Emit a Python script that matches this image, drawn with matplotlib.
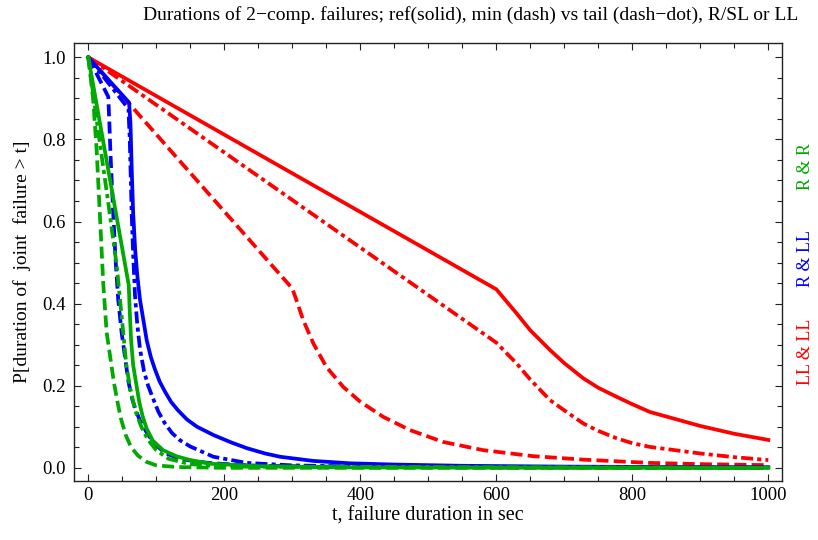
import numpy as np
import matplotlib
matplotlib.use("Agg")
import matplotlib.pyplot as plt
from matplotlib.ticker import MultipleLocator, FormatStrFormatter

plt.rcParams['font.family'] = ['Liberation Serif', 'DejaVu Serif']

# LL & LL (red)
t_ll_ref = [0, 600, 630, 650, 679, 700, 728, 750, 777, 800, 826, 850, 900, 950, 1000]
p_ll_ref = [1.0, 0.435, 0.376, 0.335, 0.287, 0.255, 0.218, 0.195, 0.173, 0.155, 0.136, 0.125, 0.102, 0.083, 0.068]
t_ll_min = [0, 300, 306, 316, 331, 350, 375, 400, 434, 473, 522, 581, 654, 728, 826, 900, 1000]
p_ll_min = [1.0, 0.437, 0.409, 0.36, 0.303, 0.246, 0.197, 0.161, 0.124, 0.092, 0.063, 0.043, 0.0285, 0.020, 0.012, 0.009, 0.0066]
t_ll_tail = [0, 600, 630, 650, 679, 700, 728, 750, 777, 800, 826, 900, 950, 1000]
p_ll_tail = [1.0, 0.305, 0.254, 0.215, 0.165, 0.14, 0.108, 0.09, 0.072, 0.06, 0.051, 0.035, 0.026, 0.019]

# R & LL (blue)
t_rl_ref = [0, 60, 62, 64, 66, 69, 72, 76, 81, 86, 92, 98, 105, 113, 122, 132, 145, 160, 184, 210, 233, 260, 282, 330, 385, 450, 550, 700, 850, 1000]
p_rl_ref = [1.0, 0.89, 0.84, 0.72, 0.62, 0.53, 0.47, 0.41, 0.36, 0.31, 0.27, 0.24, 0.21, 0.185, 0.16, 0.14, 0.118, 0.10, 0.08, 0.062, 0.048, 0.035, 0.027, 0.017, 0.011, 0.008, 0.005, 0.003, 0.002, 0.0015]
t_rl_min = [0, 29.4, 31, 32.5, 35, 37, 40, 44, 49, 54, 59, 65, 70, 76, 88, 100, 113, 135, 160, 184, 250, 400, 1000]
p_rl_min = [1.0, 0.904, 0.84, 0.77, 0.68, 0.61, 0.51, 0.41, 0.33, 0.27, 0.21, 0.165, 0.14, 0.115, 0.08, 0.055, 0.036, 0.022, 0.015, 0.011, 0.005, 0.002, 0.0005]
t_rl_tail = [0, 59, 61, 63.8, 66, 68.7, 72, 76, 82, 88, 95, 103, 112, 123, 135, 150, 184, 233, 300, 400, 600, 1000]
p_rl_tail = [1.0, 0.875, 0.80, 0.62, 0.52, 0.42, 0.35, 0.29, 0.235, 0.20, 0.17, 0.137, 0.11, 0.085, 0.067, 0.052, 0.027, 0.012, 0.006, 0.003, 0.001, 0.0005]

# R & R (green)
t_rr_ref = [0, 59.5, 61, 63, 66, 70, 75, 80, 86, 95, 110, 130, 150, 180, 250, 400, 1000]
p_rr_ref = [1.0, 0.445, 0.38, 0.31, 0.25, 0.21, 0.16, 0.125, 0.095, 0.066, 0.043, 0.028, 0.019, 0.01, 0.004, 0.001, 0.0]
t_rr_min = [0, 7.3, 12.3, 17.2, 22, 27, 30.5, 34, 38, 43, 48, 55, 63, 73, 85, 100, 130, 200, 1000]
p_rr_min = [1.0, 0.896, 0.774, 0.612, 0.449, 0.33, 0.29, 0.25, 0.205, 0.16, 0.12, 0.08, 0.05, 0.03, 0.015, 0.006, 0.002, 0.0, 0.0]
t_rr_tail = [0, 15, 29, 42, 49, 56, 62, 69, 78, 88, 100, 118, 150, 200, 1000]
p_rr_tail = [1.0, 0.815, 0.65, 0.49, 0.37, 0.25, 0.19, 0.14, 0.10, 0.068, 0.043, 0.022, 0.009, 0.003, 0.0]

red = "#ff0000"
blue = "#0000ff"
green = "#00aa00"
lw = 2.7
dash = (0, (3.2, 1.4))
dashdot = (0, (3.2, 1.1, 1.1, 1.1))

fig = plt.figure(figsize=(8.18, 5.40), dpi=100)
ax = fig.add_axes([0.0908, 0.1093, 0.8656, 0.8111])

ax.plot(t_ll_ref, p_ll_ref, color=red, lw=lw)
ax.plot(t_ll_min, p_ll_min, color=red, lw=lw, linestyle=dash)
ax.plot(t_ll_tail, p_ll_tail, color=red, lw=lw, linestyle=dashdot)
ax.plot(t_rl_ref, p_rl_ref, color=blue, lw=lw)
ax.plot(t_rl_min, p_rl_min, color=blue, lw=lw, linestyle=dash)
ax.plot(t_rl_tail, p_rl_tail, color=blue, lw=lw, linestyle=dashdot)
ax.plot(t_rr_ref, p_rr_ref, color=green, lw=lw)
ax.plot(t_rr_min, p_rr_min, color=green, lw=lw, linestyle=dash)
ax.plot(t_rr_tail, p_rr_tail, color=green, lw=lw, linestyle=dashdot)

ax.set_xlim(-20.6, 1020.6)
ax.set_ylim(-0.032, 1.035)
ax.xaxis.set_major_locator(MultipleLocator(200))
ax.xaxis.set_minor_locator(MultipleLocator(50))
ax.yaxis.set_major_locator(MultipleLocator(0.2))
ax.yaxis.set_minor_locator(MultipleLocator(0.05))
ax.yaxis.set_major_formatter(FormatStrFormatter("%.1f"))
ax.tick_params(which="both", direction="in", top=True, right=True, width=0.8, colors="#222222",
               labelcolor="black", labelsize=13.5)
ax.tick_params(which="major", length=5.3, pad=6)
ax.tick_params(axis="x", which="major", pad=4.5)
ax.tick_params(which="minor", length=3.3)
for s in ax.spines.values():
    s.set_linewidth(1.0)
    s.set_color("#222222")

ax.set_xlabel("t, failure duration in sec", fontsize=14.5, labelpad=1.5)
ax.set_ylabel("P[duration of  joint  failure > t]", fontsize=14, labelpad=8)
fig.text(0.576, 0.972, "Durations of 2\u2212comp. failures; ref(solid), min (dash) vs tail (dash\u2212dot), R/SL or LL",
         ha="center", va="center", fontsize=14)

fig.text(0.985, 0.692, "R & R", rotation=90, color=green, ha="center", va="center", fontsize=13)
fig.text(0.985, 0.522, "R & LL", rotation=90, color=blue, ha="center", va="center", fontsize=13)
fig.text(0.985, 0.348, "LL & LL", rotation=90, color=red, ha="center", va="center", fontsize=13)

plt.savefig("out.png", dpi=100)
